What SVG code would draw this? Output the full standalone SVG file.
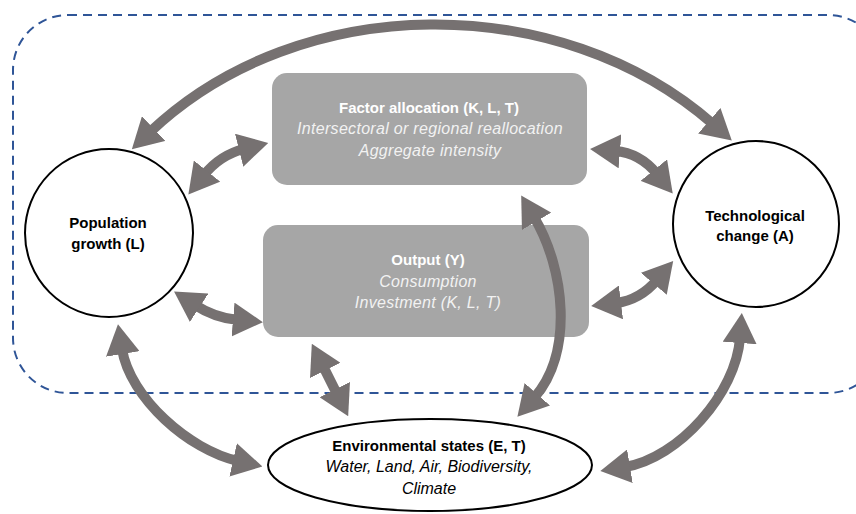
<svg xmlns="http://www.w3.org/2000/svg" width="856" height="514" viewBox="0 0 856 514">
<style>
.bnd{fill:none;stroke:#2f5597;stroke-width:2;stroke-dasharray:9 6}
.box{fill:#a6a6a6}
.circ{fill:#fff;stroke:#000;stroke-width:2}
.arr{fill:none;stroke:#767171;stroke-width:10;marker-start:url(#h);marker-end:url(#h)}
.t{font-family:"Liberation Sans",Arial,sans-serif;text-anchor:middle}
.b{font-weight:bold;font-size:15px}
.i{font-style:italic;font-size:16px}
.w{fill:#fff}
.wi{fill:#f2f2f2;letter-spacing:0.3px}
.k{fill:#000}
</style>
<defs>
<marker id="h" viewBox="0 0 30 34" refX="5" refY="17" markerWidth="30" markerHeight="34" markerUnits="userSpaceOnUse" orient="auto-start-reverse">
<path d="M0,0 L30,17 L0,34 z" fill="#767171"/>
</marker>
</defs>
<rect class="bnd" x="13" y="15" width="870" height="378" rx="55" ry="55"/>
<g id="factor">
<rect class="box" x="272" y="73" width="315" height="112" rx="15"/>
<text class="t b w" x="429" y="113">Factor allocation (K, L, T)</text>
<text class="t i wi" x="430" y="134">Intersectoral or regional reallocation</text>
<text class="t i wi" x="430" y="156">Aggregate intensity</text>
</g>
<g id="output">
<rect class="box" x="263" y="225" width="326" height="112" rx="15"/>
<text class="t b w" x="428" y="265">Output (Y)</text>
<text class="t i wi" x="428" y="287">Consumption</text>
<text class="t i wi" x="428" y="308">Investment (K, L, T)</text>
</g>
<g id="population">
<circle class="circ" cx="109" cy="233" r="84"/>
<text class="t b k" x="108" y="228">Population</text>
<text class="t b k" x="108" y="249">growth (L)</text>
</g>
<g id="technology">
<circle class="circ" cx="756" cy="224" r="83"/>
<text class="t b k" x="755" y="221">Technological</text>
<text class="t b k" x="755" y="241">change (A)</text>
</g>
<g id="environment">
<ellipse class="circ" cx="430" cy="465" rx="162" ry="46"/>
<text class="t b k" x="429" y="451">Environmental states (E, T)</text>
<text class="t i k" x="429" y="472">Water, Land, Air, Biodiversity,</text>
<text class="t i k" x="429" y="494">Climate</text>
</g>
<g id="connectors">
<path class="arr" d="M150,132 C300,-10 560,-10 713,124"/>
<path class="arr" d="M204,175 Q220,155 244,149"/>
<path class="arr" d="M615,151 Q640,153 657,174"/>
<path class="arr" d="M195,305 Q215,318 238,320"/>
<path class="arr" d="M616,303 Q640,300 657,280"/>
<path class="arr" d="M122,349 C130,398 189,450 238,461"/>
<path class="arr" d="M323,366 L337,394"/>
<path class="arr" d="M534,217 C565,269 574,353 534,398"/>
<path class="arr" d="M740,338 C736,393 679,458 625,467"/>
</g>
</svg>
